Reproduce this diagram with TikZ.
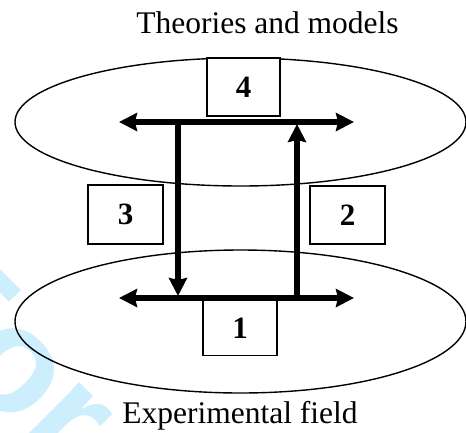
\documentclass[tikz,border=0pt]{standalone}
\usepackage{fontspec}
\setmainfont{Liberation Serif}
\newfontfamily\wmfont{Liberation Sans}
\usetikzlibrary{shapes.geometric,arrows.meta}
\definecolor{wmblue}{RGB}{205,238,252}
\tikzset{
  field/.style={draw, ellipse, line width=1.4pt, minimum width=451pt, minimum height=#1, inner sep=0pt},
  numbox/.style={draw, line width=1.1pt, fill=white, inner sep=0pt, font=\fontsize{31}{31}\selectfont\bfseries},
  flow/.style={line width=5.5pt, -{Stealth[length=18pt,width=18pt,inset=2pt]}},
  flow2/.style={line width=5.5pt, {Stealth[length=18pt,width=18pt,inset=2pt]}-{Stealth[length=18pt,width=18pt,inset=2pt]}},
  caption/.style={font=\fontsize{31.5}{31.5}\selectfont, inner sep=0pt, anchor=base}
}
\begin{document}
\begin{tikzpicture}[x=1pt,y=-1pt]
\useasboundingbox (0,0) rectangle (466,432);
\begin{scope}
\clip (0,0) rectangle (466,432);
\node[wmblue, rotate=-45, anchor=base west, inner sep=0pt, font=\wmfont\bfseries\fontsize{150}{150}\selectfont] (wm) at (-113,302) {For};
\end{scope}
% ellipses
\node[field=128pt] (top) at (240.5,122) {};
\node[field=143pt] (bot) at (240.5,321.5) {};
% arrow endpoints
\coordinate (tl) at (119,122);
\coordinate (tr) at (354,122);
\coordinate (bl) at (119,298);
\coordinate (br) at (354,298);
\coordinate (lvt) at (178,122);
\coordinate (lvb) at (178,296);
\coordinate (rvb) at (297,298);
\coordinate (rvt) at (297,124);
% boxes
\node[numbox, minimum width=73pt, minimum height=58pt] (b4) at (243.5,87) {4};
\node[numbox, minimum width=75pt, minimum height=59pt] (b3) at (125.5,214.5) {3};
\node[numbox, minimum width=75pt, minimum height=58pt] (b2) at (347.5,215) {2};
\node[numbox, minimum width=74pt, minimum height=55pt] (b1) at (240,328) {1};
% arrows
\draw[flow2] (tl) -- (tr);
\draw[flow2] (bl) -- (br);
\draw[flow] (lvt) -- (lvb);
\draw[flow] (rvb) -- (rvt);
% captions
\node[caption] (theo) at (267.5,33.3) {Theories and models};
\node[caption] (exp) at (240,423.3) {Experimental field};
\end{tikzpicture}
\end{document}
